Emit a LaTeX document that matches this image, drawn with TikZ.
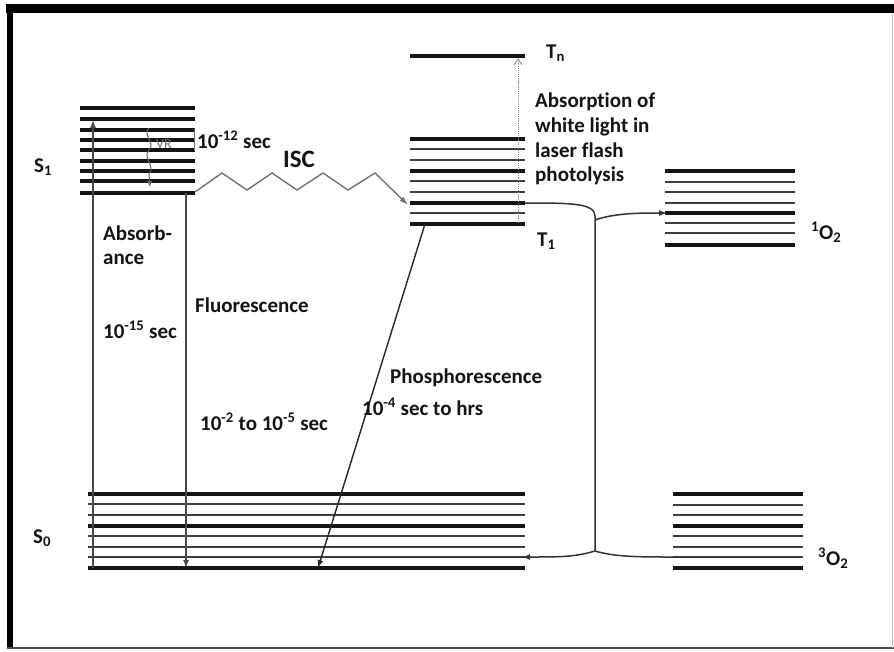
\documentclass[tikz,border=0pt]{standalone}
\usepackage{fontspec}
\setmainfont{Carlito}[Ligatures=NoCommon]
\usetikzlibrary{arrows.meta}
\begin{document}
\begin{tikzpicture}[x=1pt,y=-1pt,
  lvl/.style={line width=2.8pt,black!76},
  lvlb/.style={line width=3.2pt,black!92},
  lab/.style={font=\fontsize{21}{25}\selectfont\bfseries,text=black!92,inner sep=0pt,anchor=base west},
  conn/.style={line width=1.5pt,black!72},
  tip/.style={-{Latex[length=8pt,width=6pt]}}
]
\useasboundingbox (0,0) rectangle (894,651);
\fill[white] (0,0) rectangle (894,651);
% frame
\fill[black] (6,4) rectangle (894,13);
\fill[black] (7,4) rectangle (13,649);
\draw[line width=2.5pt,black!70] (7,648) -- (894,648);
\draw[line width=1pt,black!25] (892,13) -- (892,648);

% S1 levels
\foreach \yy in {108,119,130,140,150,161,171,181}{\draw[lvlb] (80,\yy) -- (195,\yy);}
\draw[lvlb] (80,193) -- (195,193);
% T1 levels
\foreach \yy in {149,160,181,192,213}{\draw[lvl] (410,\yy) -- (525,\yy);}
\foreach \yy in {139,171,203,224}{\draw[lvlb] (410,\yy) -- (525,\yy);}
% Tn
\draw[lvlb] (410,56) -- (525,56);
% 1O2 levels
\foreach \yy in {182,192,203,223,233}{\draw[lvl] (665,\yy) -- (795,\yy);}
\foreach \yy in {171,213,245}{\draw[lvlb] (665,\yy) -- (795,\yy);}
% S0 levels
\foreach \yy in {504,515,536,547,557}{\draw[lvl] (88,\yy) -- (525,\yy);}
\foreach \yy in {494,526,568}{\draw[lvlb] (88,\yy) -- (525,\yy);}
% 3O2 levels
\foreach \yy in {505,515,536,547,557}{\draw[lvl] (673,\yy) -- (803,\yy);}
\foreach \yy in {494,526,568}{\draw[lvlb] (673,\yy) -- (803,\yy);}

% coordinates
\coordinate (absB) at (93,568);
\coordinate (absT) at (93,120);
\coordinate (fluT) at (186,193);
\coordinate (fluB) at (186,568);
\coordinate (phoT) at (425,224);
\coordinate (phoB) at (318,568);
\coordinate (iscA) at (195,192);
\coordinate (iscB) at (408,205);
\coordinate (lfB) at (518,223);
\coordinate (lfT) at (518,58);
\coordinate (t1e) at (525,203);
\coordinate (cor) at (595,216);
\coordinate (brU) at (595,220);
\coordinate (junc) at (595,551);
\coordinate (o1) at (667,213);
\coordinate (s0e) at (522,557);
\coordinate (o3) at (673,557);
\coordinate (vrA) at (149,128);
\coordinate (vrB) at (150,187);

% absorbance and fluorescence
\draw[conn,tip] (absB) -- (absT);
\draw[conn,tip] (fluT) -- (fluB);
% phosphorescence
\draw[conn,line width=1.4pt,black!85,tip] (phoT) -- (phoB);
% ISC zigzag
\draw[line width=1.4pt,black!55,line join=miter,-{Latex[length=9pt,width=6pt]}]
  (iscA) -- (222,173) -- (247,190) -- (272,173) -- (297,190) -- (323,173) -- (348,190) -- (375,173) -- (iscB);
% laser flash dotted arrow
\draw[line width=0.9pt,black!45,densely dotted,-{Straight Barb[length=6pt,width=8pt]}] (lfB) -- (lfT);
% oxygen connectors
\draw[line width=1.5pt,black!80] (t1e) .. controls (570,203) and (595,203) .. (cor) -- (junc);
\draw[line width=1.5pt,black!80,tip] (brU) .. controls (615,213) and (640,213) .. (o1);
\draw[line width=1.5pt,black!80,tip] (junc) .. controls (575,557) and (560,557) .. (s0e);
\draw[line width=1.5pt,black!80] (junc) .. controls (615,557) and (640,557) .. (o3);
% vibrational relaxation squiggle
\draw[line width=1pt,black!60,-{Latex[length=6pt,width=5pt]}]
  (vrA) .. controls (142,136) and (156,142) .. (149,150) .. controls (142,158) and (156,166) .. (149,174) -- (vrB);
\draw[line width=0.8pt,black!55] (194,129) -- (194,151);
\node[font=\fontsize{14}{16}\selectfont,text=black!55,inner sep=0pt,anchor=base west] (vr) at (156,148) {VR};

% labels
\node[lab] (s1) at (34,172) {S\textsubscript{1}};
\node[lab] (s0) at (33,543) {S\textsubscript{0}};
\node[lab] (tn) at (546,58) {T\textsubscript{n}};
\node[lab] (t1) at (537,246) {T\textsubscript{1}};
\node[lab] (o1l) at (811,239) {\textsuperscript{1}O\textsubscript{2}};
\node[lab] (o3l) at (818,565) {\textsuperscript{3}O\textsubscript{2}};
\node[lab] (ab1) at (535,107) {Absorption of};
\node[lab] (ab2) at (535,132) {white light in};
\node[lab] (ab3) at (535,157) {laser flash};
\node[lab] (ab4) at (535,181) {photolysis};
\node[lab] (t12) at (197,148) {10\textsuperscript{-12} sec};
\node[lab,font=\fontsize{25}{29}\selectfont\bfseries] (isc) at (283,167) {ISC};
\node[lab] (abs1) at (103,240) {Absorb-};
\node[lab] (abs2) at (103,264) {ance};
\node[lab] (t15) at (103,338) {10\textsuperscript{-15} sec};
\node[lab] (flu) at (195,312) {Fluorescence};
\node[lab] (t25) at (200,430) {10\textsuperscript{-2} to 10\textsuperscript{-5} sec};
\node[lab] (pho) at (390,383) {Phosphorescence};
\node[lab] (t4) at (362,415) {10\textsuperscript{-4} sec to hrs};
\end{tikzpicture}
\end{document}
